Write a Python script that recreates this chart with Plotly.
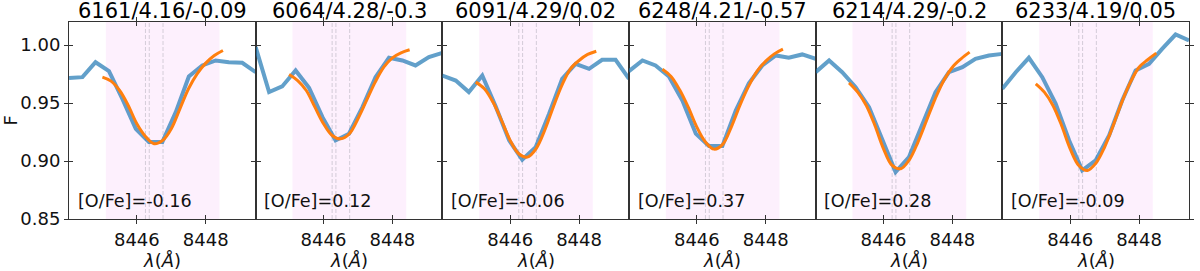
import plotly.graph_objects as go

# ---------------- data ----------------
titles = ["6161/4.16/-0.09", "6064/4.28/-0.3", "6091/4.29/0.02",
          "6248/4.21/-0.57", "6214/4.29/-0.2", "6233/4.19/0.05"]
ofe_labels = ["[O/Fe]=-0.16", "[O/Fe]=0.12", "[O/Fe]=-0.06",
              "[O/Fe]=0.37", "[O/Fe]=0.28", "[O/Fe]=-0.09"]

wave_obs = [8444.03, 8444.42, 8444.80, 8445.19, 8445.58, 8445.97, 8446.35, 8446.74,
            8447.13, 8447.51, 8447.90, 8448.29, 8448.67, 8449.06, 8449.45]
flux_obs_1 = [0.9716, 0.9724, 0.9853, 0.9776, 0.9537, 0.9279, 0.9164, 0.9164, 0.9422, 0.9730, 0.9825, 0.9868, 0.9853, 0.9848, 0.9767]
flux_obs_2 = [0.9983, 0.9595, 0.9644, 0.9782, 0.9632, 0.9379, 0.9178, 0.9236, 0.9465, 0.9724, 0.9891, 0.9868, 0.9825, 0.9897, 0.9934]
flux_obs_3 = [0.9738, 0.9695, 0.9595, 0.9738, 0.9471, 0.9178, 0.9011, 0.9120, 0.9408, 0.9710, 0.9839, 0.9796, 0.9874, 0.9874, 0.9710]
flux_obs_4 = [0.9776, 0.9868, 0.9825, 0.9730, 0.9523, 0.9236, 0.9129, 0.9129, 0.9437, 0.9672, 0.9825, 0.9911, 0.9891, 0.9920, 0.9882]
flux_obs_5 = [0.9767, 0.9868, 0.9767, 0.9638, 0.9465, 0.9178, 0.8905, 0.9034, 0.9322, 0.9595, 0.9767, 0.9810, 0.9882, 0.9911, 0.9925]
flux_obs_6 = [0.9624, 0.9767, 0.9891, 0.9724, 0.9494, 0.9178, 0.8920, 0.9005, 0.9221, 0.9523, 0.9782, 0.9839, 0.9968, 1.0092, 1.0040]

wave_fit = [8445.00, 8445.25, 8445.50, 8445.75, 8446.00, 8446.25, 8446.50, 8446.75,
            8447.00, 8447.25, 8447.50, 8447.75, 8448.00, 8448.25, 8448.50]
flux_fit_1 = [0.9724, 0.9690, 0.9609, 0.9480, 0.9322, 0.9213, 0.9149, 0.9178, 0.9279, 0.9451, 0.9624, 0.9753, 0.9845, 0.9911, 0.9954]
flux_fit_2 = [0.9747, 0.9695, 0.9609, 0.9465, 0.9322, 0.9221, 0.9192, 0.9236, 0.9365, 0.9523, 0.9681, 0.9810, 0.9891, 0.9934, 0.9960]
flux_fit_3 = [0.9681, 0.9624, 0.9509, 0.9350, 0.9178, 0.9063, 0.9034, 0.9106, 0.9264, 0.9465, 0.9652, 0.9796, 0.9868, 0.9920, 0.9948]
flux_fit_4 = [0.9793, 0.9730, 0.9615, 0.9465, 0.9293, 0.9164, 0.9103, 0.9144, 0.9293, 0.9480, 0.9644, 0.9776, 0.9862, 0.9925, 0.9966]
flux_fit_5 = [0.9675, 0.9595, 0.9480, 0.9307, 0.9106, 0.8962, 0.8934, 0.9011, 0.9164, 0.9350, 0.9537, 0.9695, 0.9810, 0.9882, 0.9940]
flux_fit_6 = [0.9667, 0.9595, 0.9480, 0.9307, 0.9106, 0.8962, 0.8919, 0.8983, 0.9121, 0.9307, 0.9509, 0.9681, 0.9810, 0.9874, 0.9931]

flux_obs = [flux_obs_1, flux_obs_2, flux_obs_3, flux_obs_4, flux_obs_5, flux_obs_6]
flux_fit = [flux_fit_1, flux_fit_2, flux_fit_3, flux_fit_4, flux_fit_5, flux_fit_6]

line_centers = [8446.25, 8446.36, 8446.76]   # O I triplet
fit_window = [8445.1, 8448.4]
x_range = [8444.03, 8449.45]
y_range = [0.85, 1.02]
x_ticks = [8446, 8448]
y_ticks = [0.85, 0.90, 0.95, 1.00]
y_ticktext = ["0.85", "0.90", "0.95", "1.00"]

# ---------------- figure ----------------
FONT = "DejaVu Sans"
n = len(titles)
fig = go.Figure()
layout = dict(
    width=1200, height=271,
    margin=dict(l=69, r=6, t=22, b=52),
    paper_bgcolor="white", plot_bgcolor="white",
    showlegend=False, hovermode=False,
    font=dict(family=FONT, size=18, color="#000000"),
)
annotations = []
shapes = []
TL = 4

for i in range(n):
    k = i + 1
    ko = i + 1 + n
    dom = [i / n, (i + 1) / n]
    xs = "" if k == 1 else str(k)
    xa = "x" + xs
    ya = "y" + xs
    layout["xaxis" + xs] = dict(domain=dom, anchor=ya, range=x_range, tickvals=x_ticks,
                                ticktext=[str(t) for t in x_ticks],
                                ticks="outside", ticklen=TL, tickwidth=1, tickcolor="#333",
                                showline=True, linecolor="#333", linewidth=1, mirror="ticks",
                                showgrid=False, zeroline=False,
                                tickfont=dict(family=FONT, size=18, color="#111"))
    layout["yaxis" + xs] = dict(domain=[0, 1], anchor=xa, range=y_range, tickvals=y_ticks,
                                ticktext=y_ticktext, showticklabels=(i == 0),
                                ticks="outside", ticklen=TL, tickwidth=1, tickcolor="#333",
                                showline=True, linecolor="#333", linewidth=1, mirror="ticks",
                                showgrid=False, zeroline=False,
                                tickfont=dict(family=FONT, size=18, color="#111"))
    layout["xaxis" + str(ko)] = dict(domain=dom, anchor=ya, overlaying=xa, range=x_range,
                                     tickvals=x_ticks, showticklabels=False,
                                     ticks="inside", ticklen=TL, tickwidth=1, tickcolor="#333",
                                     showline=False, mirror="ticks", showgrid=False, zeroline=False)
    layout["yaxis" + str(ko)] = dict(domain=[0, 1], anchor=xa, overlaying=ya, range=y_range,
                                     tickvals=y_ticks, showticklabels=False,
                                     ticks="inside", ticklen=TL, tickwidth=1, tickcolor="#333",
                                     showline=False, mirror="ticks", showgrid=False, zeroline=False)

    shapes.append(dict(type="rect", xref=xa, yref=ya + " domain", x0=fit_window[0], x1=fit_window[1],
                       y0=0, y1=1, fillcolor="rgba(238,130,238,0.12)", line=dict(width=0), layer="below"))
    for lc in line_centers:
        shapes.append(dict(type="line", xref=xa, yref=ya + " domain", x0=lc, x1=lc, y0=0, y1=1,
                           line=dict(color="rgba(150,150,160,0.4)", width=1, dash="4px,2px"),
                           layer="below"))

    fig.add_trace(go.Scatter(x=wave_obs, y=flux_obs[i], mode="lines", xaxis=xa, yaxis=ya,
                             line=dict(color="rgba(31,119,180,0.7)", width=4), hoverinfo="skip"))
    fig.add_trace(go.Scatter(x=wave_fit, y=flux_fit[i], mode="lines", xaxis=xa, yaxis=ya,
                             line=dict(color="#ff7f0e", width=3, shape="spline", smoothing=1.0),
                             hoverinfo="skip"))
    fig.add_trace(go.Scatter(x=[x_range[0]], y=[y_range[0]], mode="markers", opacity=0,
                             xaxis="x" + str(ko), yaxis="y" + str(ko), hoverinfo="skip"))

    annotations.append(dict(text=titles[i], xref=xa + " domain", yref=ya + " domain",
                            x=0.5, y=1, xanchor="center", yanchor="bottom", yshift=-3,
                            showarrow=False, font=dict(family=FONT, size=21, color="#000")))
    annotations.append(dict(text=ofe_labels[i], xref=xa + " domain", yref=ya + " domain",
                            x=0.035, y=0.09, xanchor="left", yanchor="middle",
                            showarrow=False, font=dict(family=FONT, size=17.6, color="#111")))
    annotations.append(dict(text="<i>λ</i>(<i>Å</i>)", xref=xa + " domain", yref="paper",
                            x=0.5, y=0, xanchor="center", yanchor="middle", yshift=-41,
                            showarrow=False, font=dict(family=FONT, size=18, color="#111")))

annotations.append(dict(text="F", xref="paper", yref="paper", x=0, y=0.5, xshift=-59,
                        xanchor="center", yanchor="middle", textangle=-90, showarrow=False,
                        font=dict(family=FONT, size=18, color="#111")))

layout["annotations"] = annotations
layout["shapes"] = shapes
fig.update_layout(**layout)
fig.write_html("out.html", config={"displayModeBar": False, "staticPlot": True},
               post_script="document.body.style.margin='0';document.body.style.padding='0';")
